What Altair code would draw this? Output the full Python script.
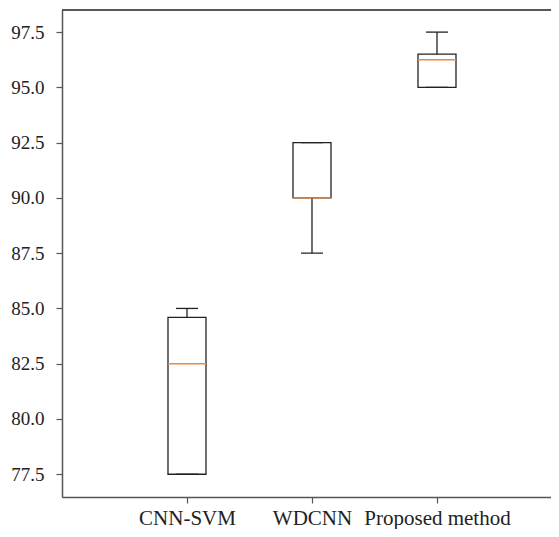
import altair as alt
import pandas as pd

methods = ["CNN-SVM", "WDCNN", "Proposed method"]
lower = [77.5, 87.5, 95.0]
q1 = [77.5, 90.0, 95.0]
median = [82.5, 90.0, 96.25]
q3 = [84.6, 92.5, 96.5]
upper = [85.0, 92.5, 97.5]
y_ticks = [77.5, 80.0, 82.5, 85.0, 87.5, 90.0, 92.5, 95.0, 97.5]

df = pd.DataFrame(dict(method=methods, lower=lower, q1=q1, median=median, q3=q3, upper=upper))

W, H = 489, 487
LINE = "#222222"
SPINE = "#555555"
FONT = "Liberation Serif"

xs = alt.Scale(type="point", domain=methods, padding=0.956, align=0.523)
ys = alt.Scale(domain=[76.47, 98.5], nice=False, zero=False)

x_axis = alt.Axis(title=None, labelAngle=0, labelFont=FONT, labelFontSize=21, labelColor="#222",
                  tickSize=6, tickColor=SPINE, domainColor=SPINE, labelPadding=21,
                  labelBaseline="alphabetic",
                  tickWidth=1.2, domainWidth=1.5, grid=False)
y_axis = alt.Axis(title=None, values=y_ticks, format=".1f", labelFont=FONT, labelFontSize=19,
                  labelColor="#222", tickSize=6, tickColor=SPINE, domainColor=SPINE,
                  labelPadding=12, tickWidth=1.2, domainWidth=1.5, grid=False)

x_enc = alt.X("method:N", scale=xs, sort=methods, axis=x_axis)
base = alt.Chart(df)

box = base.mark_bar(size=38, fill="white", stroke=LINE, strokeWidth=1.3).encode(
    x=x_enc, y=alt.Y("q1:Q", scale=ys, axis=y_axis), y2="q3:Q")
lw = base.mark_rule(color=LINE, strokeWidth=1.3).encode(
    x=alt.X("method:N", scale=xs, sort=methods), y=alt.Y("lower:Q", scale=ys), y2="q1:Q")
uw = base.mark_rule(color=LINE, strokeWidth=1.3).encode(
    x=alt.X("method:N", scale=xs, sort=methods), y=alt.Y("q3:Q", scale=ys), y2="upper:Q")
cap_lo = base.mark_tick(orient="horizontal", size=22, thickness=1.3, color=LINE, opacity=1).encode(
    x=alt.X("method:N", scale=xs, sort=methods), y=alt.Y("lower:Q", scale=ys))
cap_hi = base.mark_tick(orient="horizontal", size=22, thickness=1.3, color=LINE, opacity=1).encode(
    x=alt.X("method:N", scale=xs, sort=methods), y=alt.Y("upper:Q", scale=ys))
med = base.mark_tick(orient="horizontal", size=38, thickness=1.4, color="#f0883a", opacity=1).encode(
    x=alt.X("method:N", scale=xs, sort=methods), y=alt.Y("median:Q", scale=ys))
top = base.mark_rule(color=SPINE, strokeWidth=1.5).encode(
    x=alt.value(0), x2=alt.value(W), y=alt.value(0))

chart = alt.layer(box, lw, uw, cap_lo, cap_hi, med, top).properties(
    width=W, height=H,
    autosize=alt.AutoSizeParams(type="none"),
    padding={"left": 54, "top": 2, "right": 0, "bottom": 32},
).configure_view(stroke=None).configure(background="white")

chart.save("out.html", embed_options={"renderer": "svg", "actions": False})
